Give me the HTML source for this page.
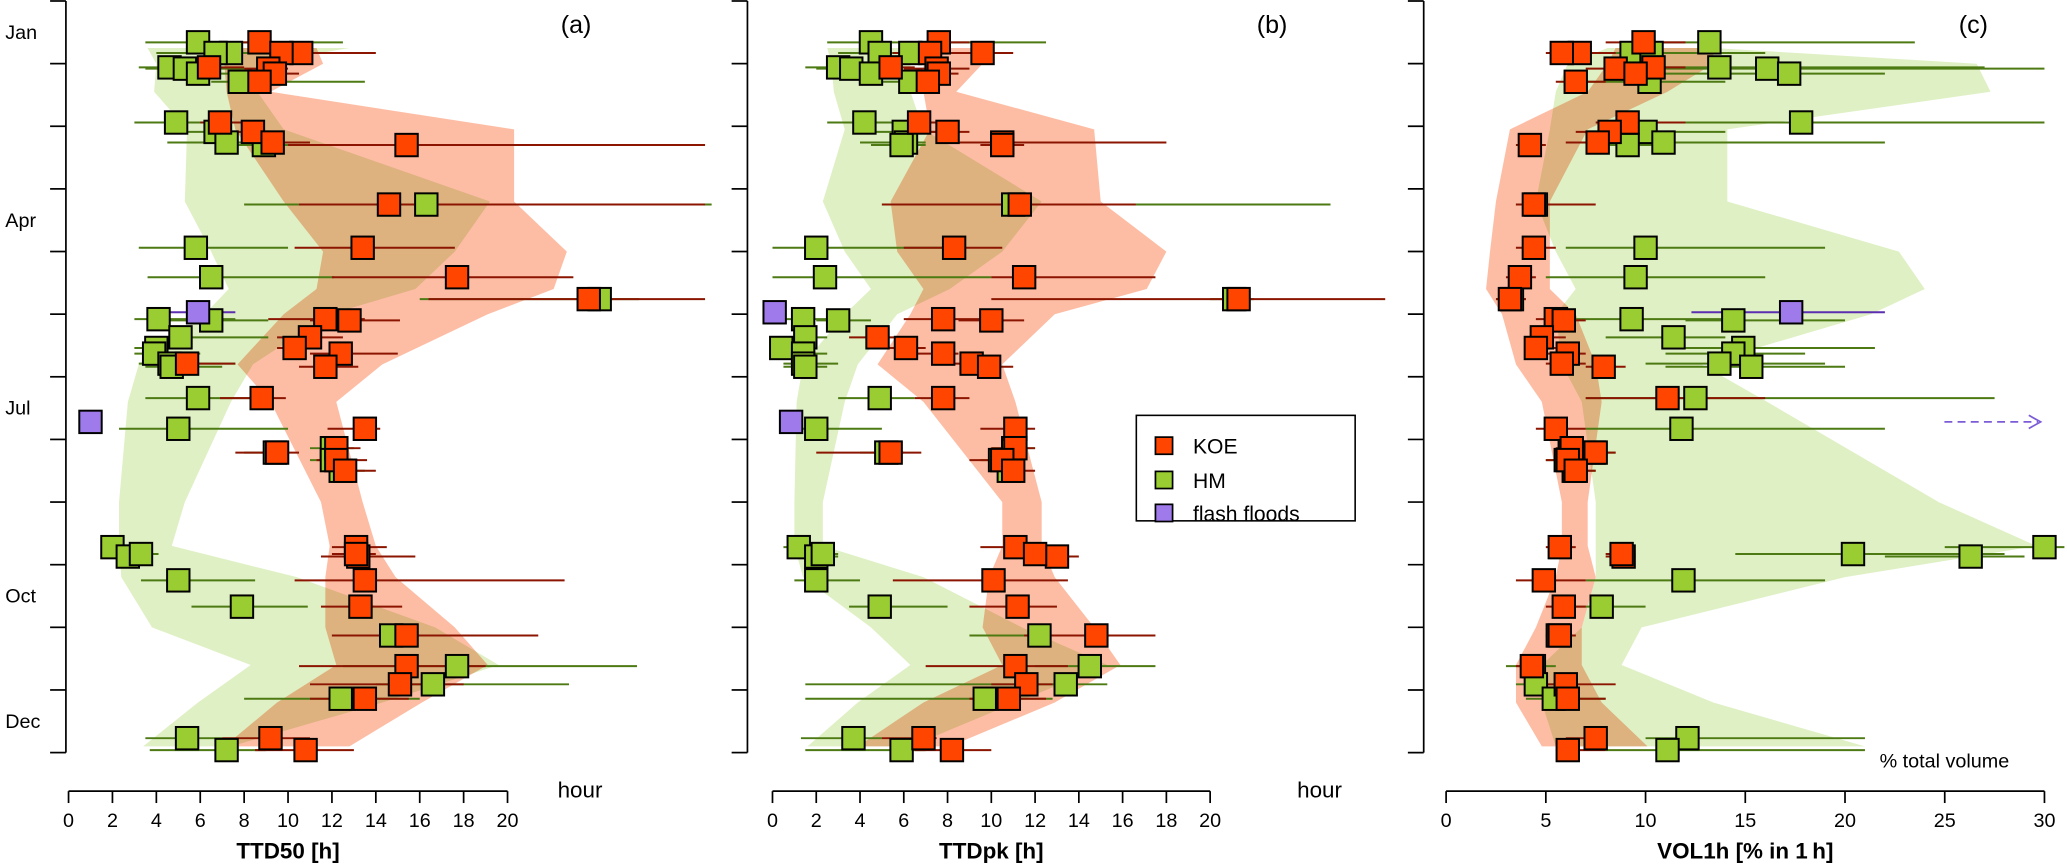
<!DOCTYPE html>
<html><head><meta charset="utf-8"><title>TTD50 / TTDpk / VOL1h seasonal chart</title>
<style>
html,body{margin:0;padding:0;background:#fff;}
svg{display:block;font-family:"Liberation Sans",Arial,sans-serif;}
.band-koe{mix-blend-mode:multiply;}
</style></head>
<body>
<svg id="chart" width="2067" height="865" viewBox="0 0 1568 656" preserveAspectRatio="none" xmlns="http://www.w3.org/2000/svg">
<g id="bands"></g>
<g id="axes"></g>
<g id="bars"></g>
<g id="marks"></g>
<g id="legend">
<rect x="862" y="315" width="166" height="80" fill="#fff" stroke="#000" stroke-width="1.2"/>
<rect x="876.5" y="331.5" width="13" height="13" fill="#ff4500" stroke="#000" stroke-width="1.3"/>
<text x="905" y="344" font-size="16">KOE</text>
<rect x="876.5" y="357.5" width="13" height="13" fill="#9acd32" stroke="#000" stroke-width="1.3"/>
<text x="905" y="370" font-size="16">HM</text>
<rect x="876.5" y="382.5" width="13" height="13" fill="#9f7aea" stroke="#000" stroke-width="1.3"/>
<text x="905" y="395" font-size="16">flash floods</text>
</g>
</svg>
<script>
// ---- data ----
const eventMonths = [0.66,0.83,0.83,1.06,1.08,1.16,1.29,1.94,2.09,2.26,2.30,3.25,3.94,4.41,4.76,5.08,5.10,5.37,5.54,5.63,5.79,5.84,6.34,6.83,7.21,7.14,7.33,7.50,8.72,8.87,8.83,9.25,9.67,10.13,10.62,10.91,11.14,11.77,11.96];

const koeA = [[7.5,8.7,10.5],[9,10.6,14],[8.5,9.7,11],[5.5,6.4,8],[8,9.1,10],[8.5,9.4,10.5],[7.8,8.7,9.5],[6,6.9,8],[7.5,8.4,9.5],[8.5,9.3,11],[10,15.4,29],[10.5,14.6,29],[10.3,13.4,17.6],[12,17.7,23],[16.4,23.7,29],[9.1,11.7,13.5],[11,12.8,15.1],[9.5,11,12.5],[9.5,10.3,11.5],[11,12.4,15],[4.8,5.4,7.6],[10.5,11.7,13.2],[6.9,8.8,9.9],[11.8,13.5,14.2],[7.6,9.5,10.5],[11.5,12.2,13.3],[11.3,12.2,13.6],[11.5,12.6,14],[12,13.1,14.5],[11.5,13.2,15.8],[12,13.1,14],[10.3,13.5,22.6],[11.5,13.3,15.2],[12,15.4,21.4],[10.5,15.4,19],[11,15.1,18],[11,13.5,15.5],[7,9.2,11],[8.5,10.8,13]];
const hmA = [[3.5,5.9,12.5],[5,7.4,11],[4,6.7,9],[3.2,4.6,6],[3.5,5.3,8],[4.5,5.9,8],[6.5,7.8,13.5],[3,4.9,6.6],[4.5,6.7,8],[4.5,7.2,9],[7,8.9,10],[8,16.3,29.3],[3.2,5.8,10],[3.6,6.5,12.1],[16,24.2,26],[3,4.1,7.6],[4,6.5,9.1],[3.5,5.1,9.1],[3,4,5.5],[3,3.9,6],[3.2,4.6,7.6],[3.5,4.7,7],[3.5,5.9,9],[2.3,5,10],[8,9.4,10],[11,12,13],[11,12,13],[11.5,12.4,13.5],[1.5,2,2.5],[2,2.7,3.5],[2.5,3.3,4.1],[3.3,5,8.5],[5.6,7.9,10.9],[12,14.7,18],[12.5,17.7,25.9],[14,16.6,22.8],[8,12.4,16],[3.5,5.4,7],[3.7,7.2,9]];

const koeB = [[6,7.6,9],[8,9.6,11],[5.5,7.2,8.5],[4,5.4,6.5],[6,7.5,9],[6.5,7.6,8.5],[6,7.1,8],[5.5,6.7,8],[7,8,9],[8.5,10.5,18],[9.5,10.5,11.5],[5,11.3,16.6],[6,8.3,10.5],[10,11.5,17.5],[10,21.3,28],[6,7.8,9.5],[8.5,10,11.5],[3.5,4.8,6],[5,6.1,7],[6.5,7.8,8.5],[8,9.1,10],[9,9.9,11],[6.5,7.8,9],[9.5,11.1,12],[2,5.4,6.8],[10,11.1,12],[9,10.5,11.5],[10,11,12],[9.5,11.1,12],[11.5,13,14],[11,12,13],[5.5,10.1,13.5],[9,11.2,13],[11.5,14.8,17.5],[7,11.1,13.5],[10,11.6,12.8],[9,10.8,12.5],[5,6.9,7.5],[6.5,8.2,10]];
const hmB = [[2.5,4.5,12.5],[3,4.9,8],[5,6.3,8],[1.5,3,4.5],[2,3.6,5.5],[3,4.5,6.5],[5,6.3,7.5],[2.5,4.2,6.5],[4.5,6,7.5],[4,6.1,7],[4.5,5.9,7],[5,11,25.5],[0,2,8],[0,2.4,10],[20,21.1,22],[0.5,1.4,3],[2,3,4.5],[0.5,1.5,2.5],[0,0.4,1.5],[0.5,1.4,2.5],[0.5,1.4,3],[0.5,1.5,2.5],[3,4.9,6.5],[0.5,2,5],[4,5.2,6],[10,11,12],[9.5,10.4,11],[10,10.8,11.5],[0.5,1.2,2],[1,2,3],[1.5,2.3,3],[1,2,4],[3.5,4.9,8],[9,12.2,15],[12,14.5,17.5],[1.5,13.4,15.3],[1.5,9.7,12.8],[1.3,3.7,5],[1.5,5.9,7]];

const koeC = [[8,9.9,12],[5.5,6.7,8.5],[5,5.8,7],[9,10.4,12],[7,8.5,10],[8,9.5,11],[5.5,6.5,8],[7.5,9.1,12],[6.5,8.2,10],[6,7.6,9],[3.5,4.2,5],[3.5,4.4,7.5],[3.5,4.4,5.5],[3,3.7,4.5],[2.5,3.2,4],[4.5,5.5,6.5],[5,5.9,7],[4,4.8,6],[4,4.5,5.5],[5,6.1,7],[5,5.8,7],[7,7.9,9],[7,11.1,16],[4.5,5.5,7],[6.5,7.5,8.5],[5.5,6.3,7],[5,6.1,7],[5.5,6.5,7.5],[5,5.7,6.5],[8,8.9,9.5],[8,8.8,9.5],[3.5,4.9,7],[5,5.9,7],[5,5.7,6.5],[3.5,4.3,5],[5,6,8.5],[5,6.1,8],[6,7.5,8],[5.5,6.1,8]];
const hmC = [[10,13.2,23.5],[6,9.3,13],[7,10.3,16],[9,13.7,27],[10,16.1,30],[11,17.2,22],[7,10.2,14],[11,17.8,30],[7,10,14],[8,10.9,22],[7,9.1,11],[3.5,4.5,6],[6,10,19],[5,9.5,16],[2.5,3.3,4],[6,9.3,15],[12,14.4,20],[8,11.4,14],[11,14.9,21.5],[11,14.4,18],[10,13.7,19],[11,15.3,20],[7,12.5,27.5],[7,11.8,22],[6.5,7.4,8.5],[5.5,6.2,7],[5,6,7],[5.5,6.4,7.5],[25,30,31],[22,26.3,29],[14.5,20.4,28],[7,11.9,19],[6,7.8,10],[5,5.6,6.5],[3,4.4,5.5],[3.5,4.5,6.5],[4,5.4,8],[10,12.1,21],[8,11.1,21]];

const flashMonths = [4.97,6.72];
const flashA = [[4.5,5.9,7.6],[1,1,1]];
const flashB = [[0.1,0.1,0.1],[0.85,0.85,0.85]];
const flashC = [[12.3,17.3,22],[null,null,null]];

const bandM = [0.75,1.0,1.45,2.05,3.2,4.0,4.6,5.0,5.8,6.4,8.0,8.7,9.2,10.0,10.6,11.2,11.9];
const hmBandLoA = [3.6,4.0,3.9,5.4,5.3,6.5,7.3,6.2,3.2,2.7,2.3,2.3,2.4,3.8,8.3,5.9,3.4];
const hmBandHiA = [12.8,8.6,8.6,9.8,19.2,17.6,15.8,11.9,8.4,7.4,5.3,4.7,10.4,16.7,19.6,14.3,7.4];
const koeBandLoA = [7.4,7.1,7.2,7.6,9.8,11.6,11.3,9.8,7.7,9.2,11.5,11.9,11.7,11.7,12.2,9.5,7.1];
const koeBandHiA = [11.3,11.6,9.2,20.3,20.3,22.7,22.1,19.1,14.3,12.2,13.4,14.0,14.9,17.6,19.1,16.1,12.8];
const hmBandLoB = [2.5,2.7,2.8,3.3,2.3,3.3,4.5,3.3,1.4,1.1,1.0,1.0,1.4,4.5,6.3,3.9,1.6];
const hmBandHiB = [8.1,6.3,6.3,6.9,12.3,10.5,8.1,5.7,3.9,3.3,2.3,2.3,6.9,11.4,15.3,11.1,6.3];
const koeBandLoB = [6.9,6.9,6.9,7.2,5.4,5.7,6.9,6.3,4.8,6.9,10.5,10.5,9.9,9.6,10.5,6.9,3.9];
const koeBandHiB = [9.3,9.6,8.4,14.7,15.0,18.0,17.1,12.9,10.5,11.1,12.3,12.3,12.9,14.7,15.9,12.9,8.1];
const hmBandLoC = [8.1,6.1,5.5,5.2,4.5,5.5,6.5,5.5,5.8,6.8,7.5,7.5,7.5,6.8,4.8,4.8,5.5];
const hmBandHiC = [13.4,26.6,27.3,14.1,14.1,22.7,24.0,21.3,12.8,16.1,24.7,29.6,20.0,9.8,8.8,13.4,21.0];
const koeBandLoC = [8.5,8.1,7.1,3.2,2.5,2.2,2.0,2.8,3.5,4.8,5.8,5.8,5.5,4.5,3.5,3.5,4.8];
const koeBandHiC = [13.4,13.4,11.1,7.1,5.2,5.2,5.2,6.5,7.5,7.8,7.1,7.1,7.5,6.8,6.8,7.8,10.1];

const monthLabels = ["Jan","Apr","Jul","Oct","Dec"];
const monthLabelPos = [0.5,3.5,6.5,9.5,11.5];
const xTicksAB = [0,2,4,6,8,10,12,14,16,18,20];
const xTicksC = [0,5,10,15,20,25,30];

// ---- geometry ----
const NS = "http://www.w3.org/2000/svg";
function yScale(m){ return 0.75 + 47.5*m; }
const panels = [
  {id:"a", axisX:50, x0:52, k:16.65, ticks:xTicksAB, title:"TTD50 [h]", tag:"(a)", tagX:437, unit:"hour", unitX:440,
   koe:koeA, hm:hmA, flash:flashA, hl:hmBandLoA, hh:hmBandHiA, kl:koeBandLoA, kh:koeBandHiA},
  {id:"b", axisX:567, x0:586, k:16.6, ticks:xTicksAB, title:"TTDpk [h]", tag:"(b)", tagX:965, unit:"hour", unitX:1001,
   koe:koeB, hm:hmB, flash:flashB, hl:hmBandLoB, hh:hmBandHiB, kl:koeBandLoB, kh:koeBandHiB},
  {id:"c", axisX:1080, x0:1097, k:15.13, ticks:xTicksC, title:"VOL1h [% in 1\u2009h]", tag:"(c)", tagX:1497, unit:"% total volume", unitX:1475,
   koe:koeC, hm:hmC, flash:flashC, hl:hmBandLoC, hh:hmBandHiC, kl:koeBandLoC, kh:koeBandHiC}
];
function mk(tag, attrs, parent){
  const e = document.createElementNS(NS, tag);
  for (const a in attrs) e.setAttribute(a, attrs[a]);
  parent.appendChild(e); return e;
}
const gB = document.getElementById("bands"), gA = document.getElementById("axes"),
      gE = document.getElementById("bars"), gM = document.getElementById("marks");

panels.forEach(p => {
  const xs = v => p.x0 + p.k*v;
  function band(lo, hi, fill, cls, name){
    let pts = [];
    for (let i=0;i<bandM.length;i++) pts.push(xs(lo[i]).toFixed(1)+","+yScale(bandM[i]).toFixed(1));
    for (let i=bandM.length-1;i>=0;i--) pts.push(xs(hi[i]).toFixed(1)+","+yScale(bandM[i]).toFixed(1));
    const el = mk("polygon", {points:pts.join(" "), fill:fill, class:cls}, gB);
    
    
  }
  band(p.hl, p.hh, "#dff0c4", "band-hm", "hm-range-band-"+p.id);
  band(p.kl, p.kh, "#fdbda5", "band-koe", "koe-range-band-"+p.id);

  const ya = mk("line", {x1:p.axisX, x2:p.axisX, y1:yScale(0), y2:yScale(12), stroke:"#000", "stroke-width":1.3}, gA);
  
  
  for (let i=0;i<=12;i++){
    const t = mk("line", {x1:p.axisX-12, x2:p.axisX, y1:yScale(i), y2:yScale(i), stroke:"#000", "stroke-width":1.3}, gA);
    
    
  }
  if (p.id === "a"){
    monthLabels.forEach((lab,i) => {
      const t = mk("text", {x:4, y:yScale(monthLabelPos[i])+5, "font-size":15}, gA);
      t.textContent = lab;
      
      
    });
  }
  const tmax = p.ticks[p.ticks.length-1];
  const xa = mk("line", {x1:xs(0), x2:xs(tmax), y1:600, y2:600, stroke:"#000", "stroke-width":1.3}, gA);
  
  
  p.ticks.forEach(v => {
    const t = mk("line", {x1:xs(v), x2:xs(v), y1:600, y2:609, stroke:"#000", "stroke-width":1.3}, gA);
    
    
    const l = mk("text", {x:xs(v), y:627, "font-size":15, "text-anchor":"middle"}, gA);
    l.textContent = v;
    
    
  });
  const ti = mk("text", {x:(xs(0)+xs(tmax))/2, y:651, "font-size":17, "font-weight":"bold", "text-anchor":"middle"}, gA);
  ti.textContent = p.title;
  
  
  const tg = mk("text", {x:p.tagX, y:25, "font-size":19, "text-anchor":"middle"}, gA);
  tg.textContent = p.tag;
  
  
  const un = p.id === "c"
    ? mk("text", {x:p.unitX, y:582, "font-size":15, "text-anchor":"middle"}, gA)
    : mk("text", {x:p.unitX, y:605, "font-size":17, "text-anchor":"middle"}, gA);
  un.textContent = p.unit;
  
  

  function bars(arr, months, color, name){
    arr.forEach((d,i) => {
      if (d[0] === null) return;
      const y = yScale(months[i]);
      const b = mk("line", {x1:xs(d[0]), x2:xs(d[2]), y1:y, y2:y, stroke:color, "stroke-width":1.5}, gE);
      
      
    });
  }
  bars(p.hm, eventMonths, "#4d7a12", "hm-error-bar");
  bars(p.koe, eventMonths, "#8b1500", "koe-error-bar");
  bars(p.flash, flashMonths, "#5b2fb0", "flash-error-bar");

  function squares(arr, months, fill, name){
    arr.forEach((d,i) => {
      if (d[1] === null) return;
      const s = mk("rect", {x:xs(d[1])-8.5, y:yScale(months[i])-8.5, width:17, height:17, fill:fill, stroke:"#000", "stroke-width":1.5}, gM);
      
      
    });
  }
  squares(p.hm, eventMonths, "#9acd32", "hm-marker");
  squares(p.koe, eventMonths, "#ff4500", "koe-marker");
  squares(p.flash, flashMonths, "#9f7aea", "flash-flood-marker");
});

(function(){
  const y = yScale(flashMonths[1]);
  const ar = mk("line", {x1:1475, x2:1546, y1:y, y2:y, stroke:"#7b5bd6", "stroke-width":1.3, "stroke-dasharray":"6,4"}, gM);
  
  
  const ah = mk("polyline", {points:"1539,"+(y-5)+" 1548,"+y+" 1539,"+(y+5), fill:"none", stroke:"#7b5bd6", "stroke-width":1.3}, gM);
  
  
})();
</script>
</body></html>
